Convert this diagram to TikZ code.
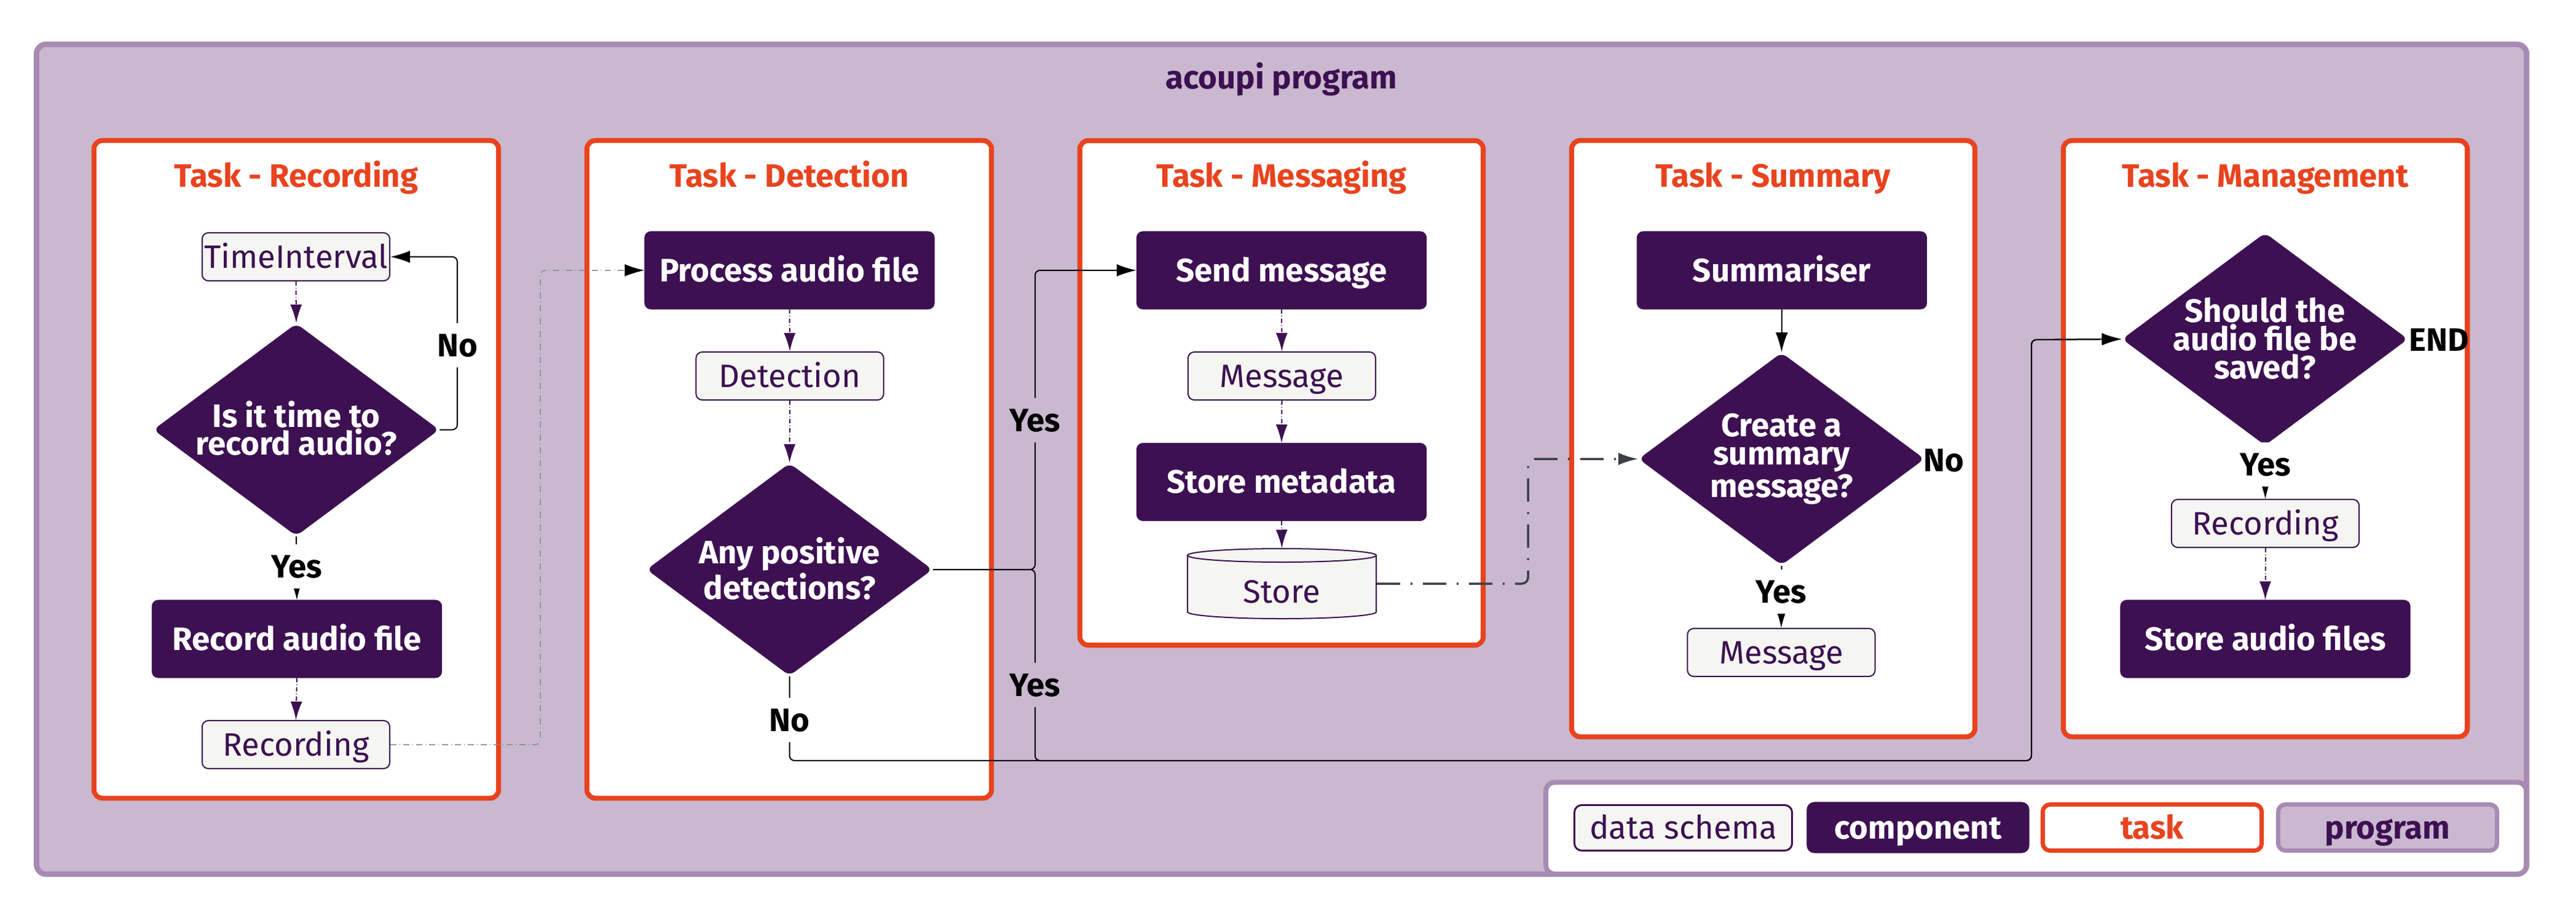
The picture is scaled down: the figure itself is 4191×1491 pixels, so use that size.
\documentclass[tikz,border=0pt]{standalone}
\usepackage{fontspec}
\setmainfont{Fira Sans}
\usetikzlibrary{shapes.geometric,arrows.meta,calc}
\definecolor{dpurp}{HTML}{3D1052}
\definecolor{progfill}{HTML}{C9B8CF}
\definecolor{progline}{HTML}{A78BB3}
\definecolor{taskred}{HTML}{E8431E}
\definecolor{datafill}{HTML}{F5F6F1}
\definecolor{storeline}{HTML}{3B4048}
\definecolor{grayline}{HTML}{8A8A8A}
\begin{document}
\begin{tikzpicture}[x=0.01cm,y=-0.01cm,
  font=\fontsize{15pt}{18pt}\selectfont,
  capc/.style={text height=13.3pt, text depth=3pt},
  comp/.style={capc, draw=dpurp, fill=dpurp, text=white, font=\fontsize{15pt}{18pt}\selectfont\bfseries, rounded corners=0.1cm, minimum width=4.71cm, minimum height=1.26cm, inner sep=0pt, line width=0.01cm},
  data/.style={capc, draw=dpurp, fill=datafill, text=dpurp, rounded corners=0.1cm, minimum width=3.05cm, minimum height=0.78cm, inner sep=0pt, line width=0.02cm},
  dia/.style={diamond, fill=dpurp, minimum width=4.65cm, minimum height=3.46cm, inner sep=0pt, rounded corners=0.1cm},
  diatext/.style={text=white, font=\fontsize{15pt}{13pt}\selectfont\bfseries, align=center, inner sep=0pt},
  taskbox/.style={draw=taskred, fill=white, line width=0.08cm, rounded corners=0.14cm, inner sep=0pt},
  tasktitle/.style={capc, text=taskred, font=\fontsize{15pt}{18pt}\selectfont\bfseries},
  lbl/.style={capc, font=\fontsize{15pt}{18pt}\selectfont\bfseries, text=black, inner sep=2pt},
  flow/.style={draw=black, line width=0.02cm, -{Latex[length=0.32cm,width=0.2cm]}, rounded corners=0.08cm},
  dataflow/.style={draw=dpurp, line width=0.02cm, dash pattern=on 0.07cm off 0.035cm on 0.01cm off 0.035cm, -{Latex[length=0.3cm,width=0.19cm]}},
  grayflow/.style={draw=grayline, line width=0.015cm, dash pattern=on 0.1cm off 0.05cm on 0.01cm off 0.05cm, -{Latex[black,length=0.32cm,width=0.2cm]}, rounded corners=0.08cm},
  storeflow/.style={draw=storeline, line width=0.035cm, dash pattern=on 0.38cm off 0.17cm on 0.03cm off 0.17cm, -{Latex[length=0.32cm,width=0.2cm]}, rounded corners=0.1cm},
]
\useasboundingbox (0,0) rectangle (4191,1491);
% program
\node[draw=progline, fill=progfill, line width=0.09cm, rounded corners=0.16cm, minimum width=40.49cm, minimum height=13.50cm, inner sep=0pt] (prog) at (2085,747.5) {};
\node[capc, text=dpurp, font=\fontsize{15pt}{18pt}\selectfont\bfseries] (progT) at (2085,126) {acoupi program};

% task boxes
\node[taskbox, minimum width=6.58cm, minimum height=10.70cm] (tRec) at (482,764) {};
\node[taskbox, minimum width=6.58cm, minimum height=10.70cm] (tDet) at (1284,764) {};
\node[taskbox, minimum width=6.56cm, minimum height=8.21cm] (tMsg) at (2085,639.5) {};
\node[taskbox, minimum width=6.56cm, minimum height=9.70cm] (tSum) at (2885,714) {};
\node[taskbox, minimum width=6.57cm, minimum height=9.70cm] (tMan) at (3685.5,714) {};
\node[tasktitle] (tRecT) at (482,286) {Task - Recording};
\node[tasktitle] (tDetT) at (1284,286) {Task - Detection};
\node[tasktitle] (tMsgT) at (2085,286) {Task - Messaging};
\node[tasktitle] (tSumT) at (2885,286) {Task - Summary};
\node[tasktitle] (tManT) at (3685.5,286) {Task - Management};

% Recording
\node[data] (ti) at (481.5,418) {TimeInterval};
\node[dia] (d1) at (482,699.5) {};
\node[diatext] (d1t) at (482,697) {Is it time to\\record audio?};
\node[comp] (rab) at (483,1040) {Record audio file};
\node[data] (recA) at (481.5,1212) {Recording};

% Detection
\node[comp] (pa) at (1284.5,440) {Process audio file};
\node[data] (det) at (1285,612) {Detection};
\node[dia] (d2) at (1284.5,927) {};
\node[diatext] (d2t) at (1284.5,926) {Any positive\\detections?};

% Messaging
\node[comp] (sm) at (2085,440) {Send message};
\node[data] (msg) at (2085.5,612) {Message};
\node[comp] (smd) at (2085,784.5) {Store metadata};
\node[inner sep=0pt, minimum width=3.07cm, minimum height=1.14cm] (store) at (2085.5,950) {};
\fill[datafill] (1932,904) -- (1932,996) arc[start angle=180, end angle=360, x radius=1.535cm, y radius=0.11cm] -- (2239,904) arc[start angle=0, end angle=180, x radius=1.535cm, y radius=0.11cm] -- cycle;
\draw[dpurp, line width=0.02cm] (1932,904) -- (1932,996) arc[start angle=180, end angle=360, x radius=1.535cm, y radius=0.11cm] -- (2239,904);
\draw[dpurp, line width=0.02cm] (2085.5,904) ellipse[x radius=1.535cm, y radius=0.11cm];
\node[capc, text=dpurp] (storeT) at (2085.5,963) {Store};

% Summary
\node[comp] (summ) at (2899,440) {Summariser};
\node[dia] (d4) at (2898.5,747) {};
\node[diatext] (d4t) at (2898.5,747) {Create a\\summary\\message?};
\node[data] (msg2) at (2898,1062) {Message};

% Management
\node[dia] (d5) at (3685,552) {};
\node[diatext] (d5t) at (3685,551) {Should the\\audio file be\\saved?};
\node[data] (rec2) at (3685.5,852) {Recording};
\node[comp] (saf) at (3685.5,1040) {Store audio files};

% connectors
\draw[dataflow] (ti.south) -- (d1.north);
\draw[flow] (d1.south) -- (rab.north);
\coordinate (w1) at (744,418);
\draw[flow] (d1.east) -| (w1) -- (ti.east);
\draw[dataflow] (rab.south) -- (recA.north);
\coordinate (w2) at (879,440);
\draw[grayflow] (recA.east) -| (w2) -- (pa.west);

\draw[dataflow] (pa.south) -- (det.north);
\draw[dataflow] (det.south) -- (d2.north);
\coordinate (w3) at (1684,440);
\coordinate (w4) at (1684,1238);
\coordinate (w5) at (3305,553);
\draw[flow] (d2.east) -| (w3) -- (sm.west);
\draw[flow] (d2.south) |- (w4) -| (w5) -- (d5.west);
\draw[flow] (d2.east) -| (w4) -| (w5) -- (d5.west);

\draw[dataflow] (sm.south) -- (msg.north);
\draw[dataflow] (msg.south) -- (smd.north);
\draw[dataflow] (smd.south) -- (store.north);
\coordinate (w6) at (2486,747);
\draw[storeflow] (store.east) -| (w6) -- (d4.west);

\draw[flow] (summ.south) -- (d4.north);
\draw[flow] (d4.south) -- (msg2.north);
\draw[flow] (d5.south) -- (rec2.north);
\draw[dataflow] (rec2.south) -- (saf.north);

% labels
\node[lbl, fill=white] (y1) at (483,922) {Yes};
\node[lbl, fill=white] (n1) at (744,562) {No};
\node[lbl, fill=progfill] (y2) at (1684,684) {Yes};
\node[lbl, fill=progfill] (y3) at (1684,1115) {Yes};
\node[lbl, fill=white] (n2) at (1284,1172) {No};
\node[lbl, fill=white] (y4) at (2898,963) {Yes};
\node[lbl] (n3) at (3162,749) {No};
\node[lbl, fill=white] (y5) at (3685.5,756) {Yes};
\node[lbl] (endT) at (3968,553) {END};

% legend
\node[draw=progline, fill=white, line width=0.08cm, rounded corners=0.14cm, minimum width=15.94cm, minimum height=1.49cm, inner sep=0pt] (leg) at (3312.5,1348) {};
\node[data, line width=0.03cm, minimum width=3.54cm, minimum height=0.74cm, rounded corners=0.12cm] (lg1) at (2738.5,1347.5) {data schema};
\node[comp, minimum width=3.61cm, minimum height=0.82cm, rounded corners=0.12cm] (lg2) at (3120.5,1347) {component};
\node[taskbox, capc, line width=0.07cm, minimum width=3.56cm, minimum height=0.75cm, rounded corners=0.12cm, text=taskred, font=\fontsize{15pt}{18pt}\selectfont\bfseries] (lg3) at (3501.5,1347) {task};
\node[capc, draw=progline, fill=progfill, line width=0.07cm, minimum width=3.56cm, minimum height=0.75cm, rounded corners=0.12cm, inner sep=0pt, text=dpurp, font=\fontsize{15pt}{18pt}\selectfont\bfseries] (lg4) at (3884.5,1347) {program};
\end{tikzpicture}
\end{document}
